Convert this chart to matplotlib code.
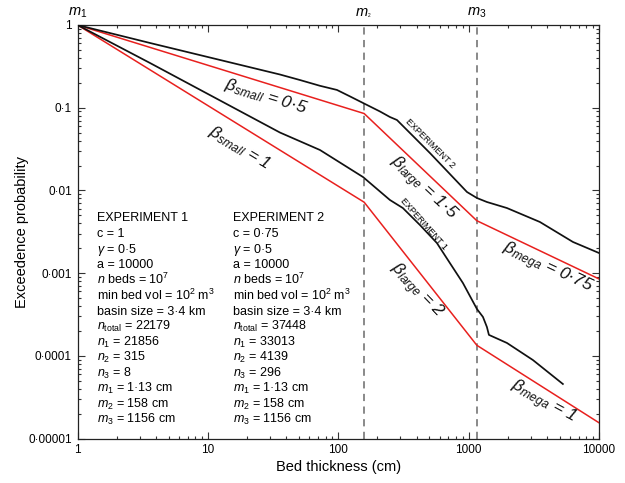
import matplotlib
matplotlib.use("Agg")
import matplotlib.pyplot as plt
from matplotlib.ticker import FixedLocator, LogLocator, NullFormatter

plt.rcParams["font.family"] = ["Liberation Sans", "DejaVu Sans"]
plt.rcParams["mathtext.fontset"] = "custom"
plt.rcParams["mathtext.rm"] = "Liberation Sans"
plt.rcParams["mathtext.it"] = "Liberation Sans:italic"
plt.rcParams["mathtext.bf"] = "Liberation Sans:bold"

# --- simulated exceedence curves (bed thickness in cm) ---
thick_exp1 = [1, 3.6, 35.7, 72.4, 155, 249, 313, 423, 571, 719, 904,
              1158, 1288, 1381, 1431, 1967, 3112, 5284]
prob_exp1 = [1, 0.347, 0.0501, 0.0308, 0.0145, 0.00766, 0.00612, 0.00382,
             0.00231, 0.00132, 0.000759, 0.000368, 0.000295, 0.000223,
             0.000179, 0.000143, 0.0000889, 0.0000456]

thick_exp2 = [1, 3.6, 35.7, 50.9, 72.4, 97.7, 123, 155, 209, 249, 282, 374,
              505, 971, 1158, 1381, 1967, 3522, 6310, 10000]
prob_exp2 = [1, 0.606, 0.252, 0.216, 0.184, 0.164, 0.137, 0.114, 0.0900,
             0.0772, 0.0710, 0.0455, 0.0283, 0.00957, 0.00809, 0.00724,
             0.00612, 0.00415, 0.00238, 0.00175]

# --- piecewise power-law models, evaluated at the break points ---
model_thick = [1, 158, 1156, 10000]
model_exp1 = [1, 0.0072, 0.000134, 0.0000155]
model_exp2 = [1, 0.085, 0.0043, 0.00085]

# break thicknesses m2, m3
breaks = [158, 1156]

x_ticks = [1, 10, 100, 1000, 10000]
x_tick_labels = ["1", "10", "100", "1000", "10000"]
y_ticks = [1e-5, 1e-4, 1e-3, 1e-2, 1e-1, 1]
y_tick_labels = ["0·00001", "0·0001", "0·001", "0·01", "0·1", "1"]

# --- parameter listing for both runs ---
param_names = ["c", r"$\gamma$", "a", r"$n$ beds", "min bed vol", "basin size",
               r"$n_{\mathrm{total}}$", r"$n_1$", r"$n_2$", r"$n_3$",
               r"$m_1$", r"$m_2$", r"$m_3$"]
params_exp1 = ["1", "0·5", "10000", r"10$^7$", r"10$^2$ m$^3$", "3·4 km",
               "22179", "21856", "315", "8", "1·13 cm", "158 cm", "1156 cm"]
params_exp2 = ["0·75", "0·5", "10000", r"10$^7$", r"10$^2$ m$^3$", "3·4 km",
               "37448", "33013", "4139", "296", "1·13 cm", "158 cm", "1156 cm"]

W, H = 625, 483
fig = plt.figure(figsize=(W / 100, H / 100), dpi=100)
ax = fig.add_axes([77.5 / W, 1 - 438.5 / H, 521.5 / W, 413.5 / H])
ax.set_xscale("log")
ax.set_yscale("log")
ax.set_xlim(1, 10000)
ax.set_ylim(1e-5, 1)

for xb in breaks:
    ax.axvline(xb, color="#808080", lw=1.3, ls=(0, (4, 3)), zorder=1)

ax.plot(model_thick, model_exp1, color="#e8201e", lw=1.1, zorder=2)
ax.plot(model_thick, model_exp2, color="#e8201e", lw=1.1, zorder=2)
ax.plot(thick_exp1, prob_exp1, color="#111111", lw=1.25, zorder=3)
ax.plot(thick_exp2, prob_exp2, color="#111111", lw=1.25, zorder=3)

ax.xaxis.set_major_locator(FixedLocator(x_ticks))
ax.set_xticklabels(x_tick_labels)
ax.yaxis.set_major_locator(FixedLocator(y_ticks))
ax.set_yticklabels(y_tick_labels)
for axis in (ax.xaxis, ax.yaxis):
    axis.set_minor_locator(LogLocator(base=10, subs=range(2, 10), numticks=20))
    axis.set_minor_formatter(NullFormatter())
ax.tick_params(which="both", direction="in", top=True, right=True,
               labelsize=8.5, width=0.8, color="#333333")
ax.tick_params(which="major", length=5, pad=4)
ax.tick_params(which="minor", length=2.5)
for sp in ax.spines.values():
    sp.set_linewidth(0.9)
    sp.set_color("#222222")

ax.set_xlabel("Bed thickness (cm)", fontsize=10.5)
ax.set_ylabel("Exceedence probability", fontsize=10.5)
ax.xaxis.set_label_coords(0.5, -0.069)
ax.yaxis.set_label_coords(-0.106, 0.5)
ax.xaxis.label.set_va("center")
ax.yaxis.label.set_va("center")

# break-point labels above the frame
for xb, lab in [(1, r"$m_1$"), (breaks[1], r"$m_3$")]:
    ax.annotate(lab, xy=(xb, 1), xytext=(0, 9), textcoords="offset points",
                ha="center", va="center", fontsize=10.5, annotation_clip=False)
ax.annotate(r"$m$", xy=(breaks[0], 1), xytext=(-1.5, 9), textcoords="offset points",
            ha="center", va="center", fontsize=10.5, annotation_clip=False)
ax.annotate("2", xy=(breaks[0], 1), xytext=(3.5, 6.5), textcoords="offset points",
            ha="center", va="center", fontsize=3.5, annotation_clip=False)

# slope labels along the curves (placed just below their model line)
slope_labels = [
    (27.9, 0.136, r"$\beta_{\mathregular{small}}$ = 0·5", -17),
    (17.6, 0.0330, r"$\beta_{\mathregular{small}}$ = 1", -31),
    (445, 0.0105, r"$\beta_{\mathregular{large}}$ = 1·5", -43),
    (394, 0.000600, r"$\beta_{\mathregular{large}}$ = 2", -46),
    (3981, 0.00113, r"$\beta_{\mathregular{mega}}$ = 0·75", -25),
    (3715, 0.0000272, r"$\beta_{\mathregular{mega}}$ = 1", -28.5),
]
for x, y, s, rot in slope_labels:
    ax.text(x, y, s, rotation=rot, rotation_mode="anchor", ha="center",
            va="center", fontsize=12.5, style="italic", color="#111111")

ax.text(505, 0.0374, "EXPERIMENT 2", rotation=-45, rotation_mode="anchor",
        ha="center", va="center", fontsize=6.5)
ax.text(454, 0.00392, "EXPERIMENT 1", rotation=-48.5, rotation_mode="anchor",
        ha="center", va="center", fontsize=6.5)

# parameter listing in figure pixels
row_y = [216.7, 232, 248, 263, 279, 295, 310, 325, 341, 356, 372, 387, 403, 418]
for col_x, title, vals in [(96.7, "EXPERIMENT 1", params_exp1),
                           (232.7, "EXPERIMENT 2", params_exp2)]:
    lines = [title] + [f"{n} = {v}" for n, v in zip(param_names, vals)]
    for yy, line in zip(row_y, lines):
        fig.text(col_x / W, 1 - (yy + 4.6) / H, line, ha="left", va="baseline",
                 fontsize=9)

fig.savefig("out.png", dpi=100)
